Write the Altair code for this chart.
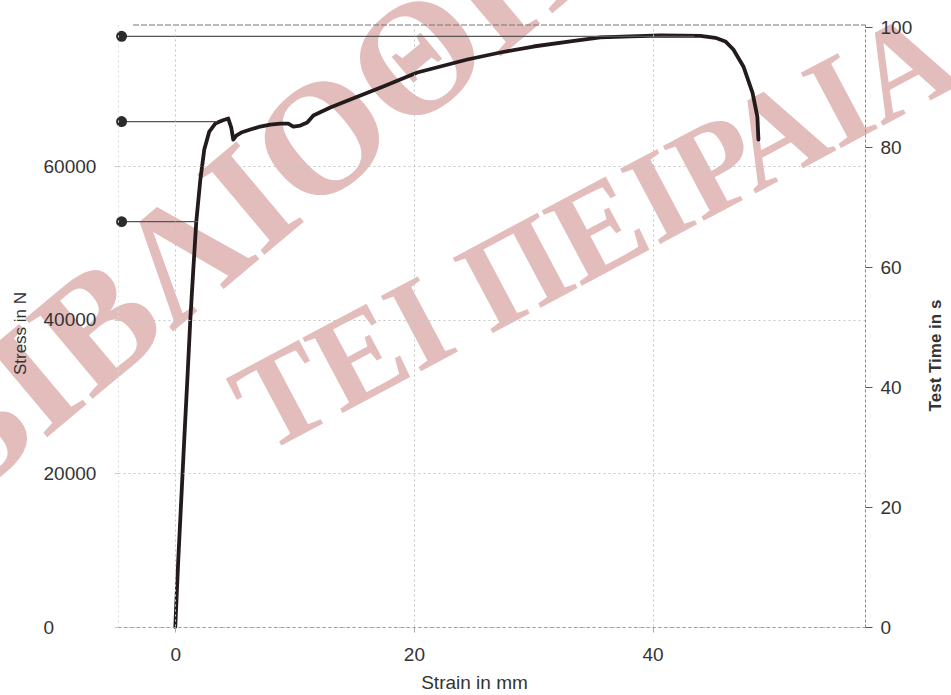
import altair as alt
import pandas as pd

# ---- data ----
strain_mm = [0, 0.25, 0.50, 0.75, 1.01, 1.26, 1.51, 1.76, 2.10, 2.43, 2.85, 3.35, 3.94, 4.44,
             4.69, 4.86, 5.11, 5.53, 6.29, 7.12, 7.96, 8.80, 9.47, 9.89, 10.48, 11.06, 11.57,
             12.99, 14.67, 17.43, 20.28, 24.48, 27.24, 30.01, 33.11, 35.62, 38.14, 40.65,
             44.01, 45.26, 46.10, 46.77, 47.61, 48.37, 48.78, 48.87]
stress_n = [0, 8730, 16550, 24370, 32180, 40000, 46520, 52770, 58240, 62150, 64500, 65540,
            65930, 66190, 65020, 63450, 63980, 64370, 64760, 65150, 65410, 65540, 65540, 65150,
            65280, 65670, 66580, 67630, 68670, 70360, 72190, 73880, 74790, 75570, 76230, 76750,
            76900, 77000, 76950, 76700, 76230, 75180, 72970, 69580, 66450, 63450]

marker_stress = [76900, 65800, 52770]
marker_end_strain = [43.5, 3.5, 1.9]
marker_start_strain = [-4.5, -4.5, -4.5]

time_range = [0, 100.5]
x_ticks = [0, 20, 40]
stress_ticks = [0, 20000, 40000, 60000]
time_ticks = [0, 20, 40, 60, 80, 100]

watermark_1 = ["ΒΙΒΛΙΟΘΗΚΗ"]
watermark_2 = ["ΤΕΙ ΠΕΙΡΑΙΑ"]

# ---- tables ----
curve_df = pd.DataFrame({"strain": strain_mm, "stress": stress_n})
mark_df = pd.DataFrame({"strain": marker_start_strain, "x1": marker_end_strain,
                        "stress": marker_stress})
time_df = pd.DataFrame({"time": time_range})

X_DOM = [-4.8, 57.8]
Y_DOM = [0, 78500]
FONT = "Liberation Sans"
TXT = "#333333"

xs = alt.Scale(domain=X_DOM, nice=False, zero=False)
ys = alt.Scale(domain=Y_DOM, nice=False, zero=False)

x_axis = alt.Axis(
    values=x_ticks, format="d", labelFlush=False, labelPadding=13, tickSize=5,
    tickColor="#aaa", domainColor="#999", domainDash=[3, 3], grid=True,
    gridColor="#c4c4c4", gridDash=[2, 3], labelFont=FONT, labelFontSize=19,
    labelColor=TXT, title="Strain in mm", titleFont=FONT, titleFontSize=19,
    titleFontWeight="normal", titleColor=TXT, titleX=356, titleY=55,
    titleBaseline="middle", titleAlign="center", zindex=1)

y_axis = alt.Axis(
    values=stress_ticks, format="d", labelAlign="left", labelBaseline="middle",
    labelPadding=71, tickSize=4, tickColor="#ccc", domainColor="#ddd",
    domainDash=[2, 3], grid=True, gridColor="#c4c4c4", gridDash=[2, 3],
    labelFont=FONT, labelFontSize=19, labelColor=TXT, title="Stress in N",
    titleFont=FONT, titleFontSize=17, titleFontWeight="normal", titleColor=TXT,
    titleX=-98, titleY=309, titleAngle=270, titleAlign="center",
    titleBaseline="middle", zindex=1)

wm_font = "Liberation Serif"
wm1 = alt.Chart(pd.DataFrame({"t": watermark_1})).mark_text(
    font=wm_font, fontWeight="bold", fontSize=160, angle=320, align="center",
    baseline="middle", color="#d9a3a3", opacity=0.72
).encode(x=alt.value(224), y=alt.value(103), text="t:N")

wm2 = alt.Chart(pd.DataFrame({"t": watermark_2})).mark_text(
    font=wm_font, fontWeight="bold", fontSize=130, angle=332, align="center",
    baseline="middle", color="#d9a3a3", opacity=0.72
).encode(x=alt.value(478), y=alt.value(210), text="t:N")

top_rule = alt.Chart(pd.DataFrame({"a": [0]})).mark_rule(
    color="#777", strokeWidth=1.2, strokeDash=[6, 2]
).encode(x=alt.value(15), x2=alt.value(747), y=alt.value(1))

curve = alt.Chart(curve_df).mark_line(
    color="#231b1b", strokeWidth=3.8, strokeJoin="round", strokeCap="round"
).encode(
    x=alt.X("strain:Q", scale=xs, axis=x_axis),
    y=alt.Y("stress:Q", scale=ys, axis=y_axis),
    order=alt.Order("strain:Q"),
)

marker_lines = alt.Chart(mark_df).mark_rule(color="#555", strokeWidth=1.3).encode(
    x=alt.X("strain:Q", scale=xs, axis=x_axis),
    x2="x1:Q",
    y=alt.Y("stress:Q", scale=ys, axis=y_axis),
)

marker_dots = alt.Chart(mark_df).mark_circle(color="#2b2b2b", size=120, opacity=1).encode(
    x=alt.X("strain:Q", scale=xs, axis=x_axis),
    y=alt.Y("stress:Q", scale=ys, axis=y_axis),
)

stress_group = alt.layer(wm1, wm2, top_rule, curve, marker_lines, marker_dots)

time_layer = alt.Chart(time_df).mark_point(opacity=0).encode(
    y=alt.Y("time:Q", scale=alt.Scale(domain=time_range, nice=False, zero=False),
            axis=alt.Axis(
                orient="right", values=time_ticks, format="d", labelAlign="left",
                labelBaseline="middle", labelPadding=8, tickSize=7, tickColor="#555",
                domainColor="#888", domainDash=[3, 2], grid=False, labelFont=FONT,
                labelFontSize=19, labelColor=TXT, title="Test Time in s", titleFont=FONT,
                titleFontSize=17, titleFontWeight="bold", titleColor=TXT, titleX=70,
                titleY=331, titleAngle=270, titleAlign="center", titleBaseline="middle",
                zindex=1)),
)

chart = alt.layer(stress_group, time_layer).resolve_scale(y="independent").properties(
    width=747, height=603,
    autosize=alt.AutoSizeParams(type="none"),
    padding={"left": 118, "top": 24, "right": 86, "bottom": 68},
    background="white",
).configure_view(stroke=None)

chart.save("out.html", embed_options={"renderer": "svg", "actions": False})
